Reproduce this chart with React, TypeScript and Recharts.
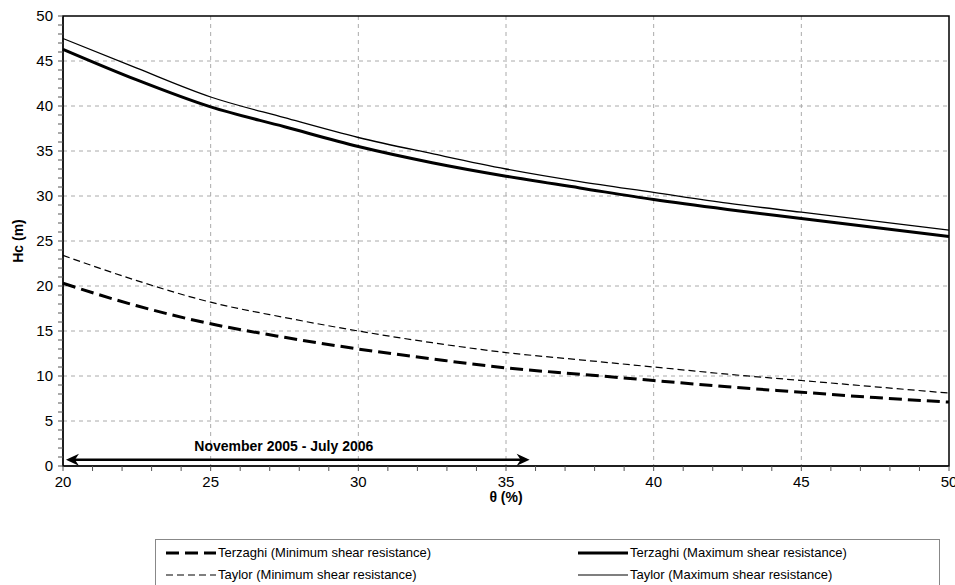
import React from "react";
import {
  LineChart,
  Line,
  XAxis,
  YAxis,
  CartesianGrid,
  ReferenceArea,
  ReferenceLine,
} from "recharts";

// water content theta (%)
const theta = [20, 22.5, 25, 27.5, 30, 32.5, 35, 37.5, 40, 42.5, 45, 47.5, 50];

// critical height Hc (m)
const terzaghiMin = [20.3, 17.8, 15.8, 14.3, 13.0, 11.9, 10.9, 10.2, 9.5, 8.8, 8.2, 7.6, 7.1];
const terzaghiMax = [46.3, 42.9, 39.9, 37.7, 35.5, 33.7, 32.2, 30.9, 29.6, 28.5, 27.5, 26.5, 25.5];
const taylorMin = [23.4, 20.6, 18.2, 16.5, 15.0, 13.7, 12.6, 11.8, 11.0, 10.2, 9.5, 8.8, 8.1];
const taylorMax = [47.5, 44.2, 41.0, 38.7, 36.5, 34.7, 33.0, 31.6, 30.4, 29.2, 28.2, 27.2, 26.2];

const xTicks = [20, 21, 22, 23, 24, 25, 26, 27, 28, 29, 30, 31, 32, 33, 34, 35, 36, 37, 38, 39, 40, 41, 42, 43, 44, 45, 46, 47, 48, 49, 50];
const yTicks = [0, 1, 2, 3, 4, 5, 6, 7, 8, 9, 10, 11, 12, 13, 14, 15, 16, 17, 18, 19, 20, 21, 22, 23, 24, 25, 26, 27, 28, 29, 30, 31, 32, 33, 34, 35, 36, 37, 38, 39, 40, 41, 42, 43, 44, 45, 46, 47, 48, 49, 50];
const xGrid = [25, 30, 35, 40, 45];
const yGrid = [5, 10, 15, 20, 25, 30, 35, 40, 45];

// period annotation (theta range, height)
const periodLabel = "November 2005 - July 2006";
const periodFrom = 20.1;
const periodTo = 35.8;
const periodY = 0.7;

const data = theta.map((t, i) => ({
  theta: t,
  terzaghiMin: terzaghiMin[i],
  terzaghiMax: terzaghiMax[i],
  taylorMin: taylorMin[i],
  taylorMax: taylorMax[i],
}));

const FONT = "'Liberation Sans', Arial, sans-serif";

const every5 = (v: number) => (v % 5 === 0 ? String(v) : "");

const ArrowShape = (props: any) => {
  const { x1, y1, x2, y2 } = props;
  if (x1 == null || x2 == null) return null;
  const y = (y1 + y2) / 2;
  const head = 13;
  const half = 6;
  const cx = (x1 + x2) / 2 - 14;
  return (
    <g>
      <line x1={x1 + 4} y1={y} x2={x2 - 4} y2={y} stroke="#000" strokeWidth={2.5} />
      <path
        d={`M${x1},${y} L${x1 + head},${y - half} L${x1 + head - 4},${y} L${x1 + head},${y + half} Z`}
        fill="#000"
      />
      <path
        d={`M${x2},${y} L${x2 - head},${y - half} L${x2 - head + 4},${y} L${x2 - head},${y + half} Z`}
        fill="#000"
      />
      <text
        x={cx}
        y={y - 9}
        textAnchor="middle"
        fontFamily={FONT}
        fontSize={14}
        fontWeight="bold"
        fill="#000"
      >
        {periodLabel}
      </text>
    </g>
  );
};

const LegendSwatch = ({ width, dash }: { width: number; dash?: string }) => (
  <svg width={50} height={10} style={{ display: "block" }}>
    <line x1={0} y1={5} x2={50} y2={5} stroke="#000" strokeWidth={width} strokeDasharray={dash} />
  </svg>
);

const legendItems = [
  { name: "Terzaghi (Minimum shear resistance)", width: 3, dash: "13 6", left: 10, top: 6 },
  { name: "Terzaghi (Maximum shear resistance)", width: 3, dash: undefined, left: 422, top: 6 },
  { name: "Taylor (Minimum shear resistance)", width: 1.2, dash: "7 4", left: 10, top: 28 },
  { name: "Taylor (Maximum shear resistance)", width: 1.2, dash: undefined, left: 422, top: 28 },
];

export default function App() {
  return (
    <div
      style={{
        position: "absolute",
        left: 0,
        top: 0,
        width: 955,
        height: 585,
        overflow: "hidden",
        background: "#fff",
        fontFamily: FONT,
      }}
    >
      <LineChart
        width={955}
        height={585}
        data={data}
        margin={{ top: 16, right: 6, bottom: 69, left: 0 }}
      >
        <CartesianGrid
          stroke="#aaa"
          strokeDasharray="4 4"
          horizontalValues={yGrid}
          verticalValues={xGrid}
        />
        <XAxis
          dataKey="theta"
          type="number"
          domain={[20, 50]}
          ticks={xTicks}
          interval={0}
          tickFormatter={every5}
          tickSize={5}
          tickMargin={5}
          height={50}
          stroke="#000"
          tick={{ fill: "#000", fontSize: 15, fontFamily: FONT }}
          tickLine={{ stroke: "#555" }}
          label={{
            value: "θ (%)",
            position: "insideBottom",
            offset: 14,
            style: { fontFamily: FONT, fontSize: 14, fontWeight: "bold", fill: "#000" },
          }}
        />
        <YAxis
          type="number"
          domain={[0, 50]}
          ticks={yTicks}
          interval={0}
          tickFormatter={every5}
          tickSize={5}
          tickMargin={5}
          width={63}
          stroke="#000"
          tick={{ fill: "#000", fontSize: 15, fontFamily: FONT }}
          tickLine={{ stroke: "#555" }}
          label={{
            value: "Hc (m)",
            angle: -90,
            position: "insideLeft",
            offset: 18,
            style: { fontFamily: FONT, fontSize: 14, fontWeight: "bold", fill: "#000", textAnchor: "middle" },
          }}
        />
        <ReferenceArea x1={20} x2={50} y1={0} y2={50} fill="none" stroke="#000" strokeWidth={1.5} />
        <Line
          dataKey="taylorMax"
          stroke="#000"
          strokeWidth={1.3}
          dot={false}
          isAnimationActive={false}
          type="monotone"
        />
        <Line
          dataKey="terzaghiMax"
          stroke="#000"
          strokeWidth={3}
          dot={false}
          isAnimationActive={false}
          type="monotone"
        />
        <Line
          dataKey="taylorMin"
          stroke="#000"
          strokeWidth={1.2}
          strokeDasharray="7 4"
          dot={false}
          isAnimationActive={false}
          type="monotone"
        />
        <Line
          dataKey="terzaghiMin"
          stroke="#000"
          strokeWidth={3}
          strokeDasharray="13 6"
          dot={false}
          isAnimationActive={false}
          type="monotone"
        />
        <ReferenceLine
          segment={[
            { x: periodFrom, y: periodY },
            { x: periodTo, y: periodY },
          ]}
          shape={ArrowShape}
          ifOverflow="visible"
        />
      </LineChart>
      <div
        style={{
          position: "absolute",
          left: 155,
          top: 539,
          width: 785,
          height: 60,
          border: "1px solid #888",
          boxSizing: "border-box",
          background: "#fff",
        }}
      >
        {legendItems.map((it) => (
          <div
            key={it.name}
            style={{
              position: "absolute",
              left: it.left,
              top: it.top,
              display: "flex",
              alignItems: "center",
              fontSize: 13,
              whiteSpace: "nowrap",
              lineHeight: "14px",
            }}
          >
            <LegendSwatch width={it.width} dash={it.dash} />
            <span style={{ marginLeft: 2 }}>{it.name}</span>
          </div>
        ))}
      </div>
    </div>
  );
}
